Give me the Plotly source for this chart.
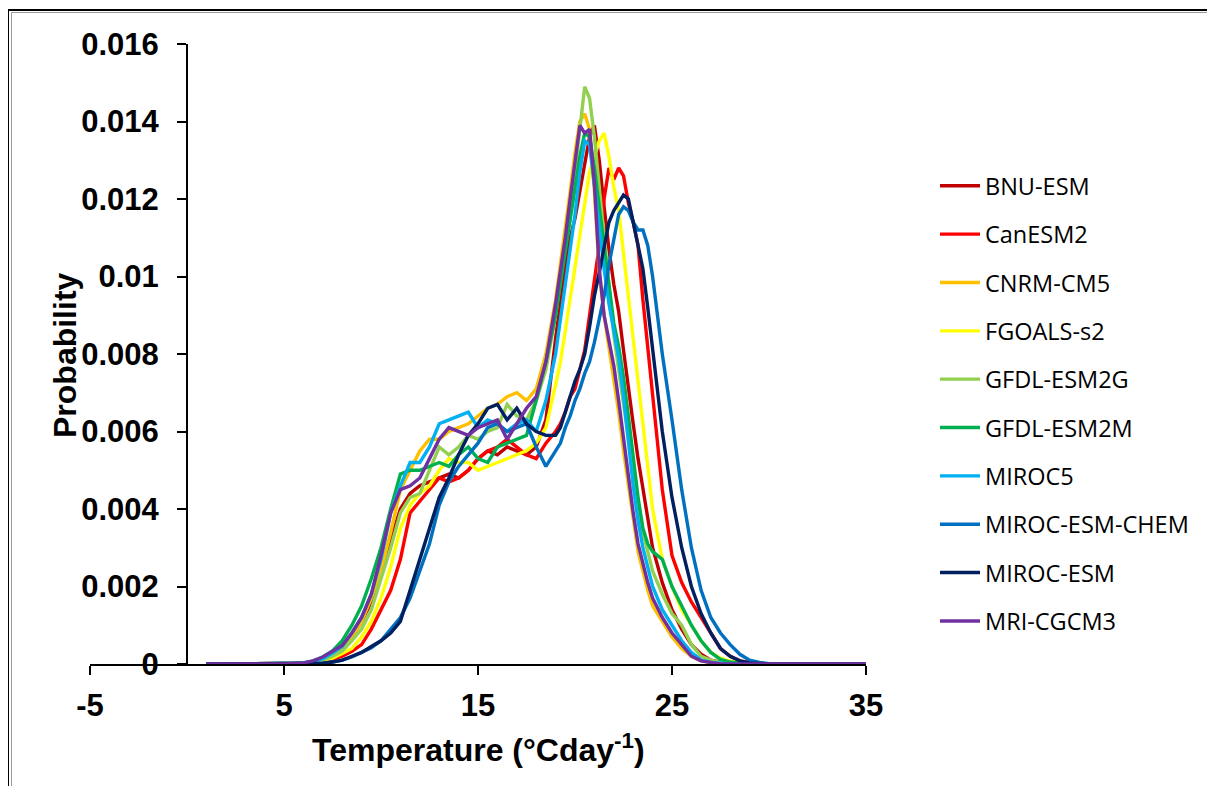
import plotly.graph_objects as go

# Temperature grid (°C day^-1)
temperature = [1, 5, 6, 6.5, 7, 7.5, 8, 8.5, 9, 9.5, 10, 10.5, 11, 11.5, 12, 12.5, 13, 13.5,
               14, 14.5, 15, 15.5, 16, 16.5, 17, 17.5, 18, 18.5, 19, 19.25, 19.5, 19.75, 20,
               20.25, 20.5, 20.75, 21, 21.25, 21.5, 21.75, 22, 22.25, 22.5, 22.75, 23, 23.25,
               23.5, 23.75, 24, 24.5, 25, 25.5, 26, 26.5, 27, 27.5, 28, 28.5, 29, 29.5, 30, 35]

bnu_esm = [0, 0, 0.00002, 0.00005, 0.0001, 0.0002, 0.0004, 0.0007, 0.0011, 0.0016, 0.0023,
           0.0032, 0.0040, 0.0044, 0.0046, 0.0047, 0.0048, 0.0049, 0.0048, 0.0050, 0.0053,
           0.0055, 0.0054, 0.0056, 0.0055, 0.0054, 0.0056, 0.0063, 0.0084, 0.0094, 0.0103,
           0.0110, 0.0115, 0.0122, 0.0129, 0.0136, 0.0139, 0.0130, 0.0118, 0.0107, 0.0098,
           0.0091, 0.0081, 0.0071, 0.0062, 0.0053, 0.0045, 0.0037, 0.0030, 0.0021, 0.0014,
           0.0009, 0.0005, 0.00025, 0.0001, 0.00005, 0.00002, 0.00001, 0, 0, 0, 0]

canesm2 = [0, 0, 0.00001, 0.00003, 0.00006, 0.00012, 0.0002, 0.00033, 0.0005, 0.0009, 0.0014,
           0.0019, 0.0027, 0.0039, 0.0042, 0.0045, 0.0048, 0.0047, 0.0048, 0.0050, 0.0053,
           0.0055, 0.0056, 0.0058, 0.0056, 0.0054, 0.0053, 0.0057, 0.0060, 0.0062, 0.0065,
           0.0069, 0.0071, 0.0076, 0.0081, 0.0090, 0.0099, 0.0108, 0.0120, 0.0128, 0.0125,
           0.0128, 0.0126, 0.0119, 0.0114, 0.0108, 0.0094, 0.0082, 0.0068, 0.0045, 0.0028,
           0.0021, 0.0016, 0.0012, 0.0008, 0.0004, 0.0002, 0.00008, 0.00004, 0.00001, 0, 0]

cnrm_cm5 = [0, 0, 0.00002, 0.00006, 0.00014, 0.00026, 0.0004, 0.0007, 0.0011, 0.0017, 0.0024,
            0.0034, 0.0045, 0.0050, 0.0055, 0.0058, 0.0058, 0.0060, 0.0061, 0.0062, 0.0064,
            0.0066, 0.0067, 0.0069, 0.0070, 0.0068, 0.0071, 0.0080, 0.0094, 0.0103, 0.0113,
            0.0122, 0.0132, 0.0140, 0.0142, 0.0138, 0.0122, 0.0101, 0.0090, 0.0082, 0.0074,
            0.0065, 0.0055, 0.0046, 0.0037, 0.0029, 0.0024, 0.0019, 0.0015, 0.0011, 0.0007,
            0.0004, 0.0002, 0.00008, 0.00003, 0, 0, 0, 0, 0, 0, 0]

fgoals_s2 = [0, 0, 0.00001, 0.00003, 0.00008, 0.00015, 0.00027, 0.0004, 0.0007, 0.0011, 0.0017,
             0.0025, 0.0035, 0.0041, 0.0044, 0.0046, 0.0050, 0.0053, 0.0052, 0.0052, 0.0050,
             0.0051, 0.0052, 0.0053, 0.0054, 0.0055, 0.0057, 0.0061, 0.0072, 0.0078, 0.0086,
             0.0094, 0.0102, 0.0110, 0.0119, 0.0127, 0.0131, 0.0135, 0.0137, 0.0131, 0.0123,
             0.0117, 0.0106, 0.0095, 0.0085, 0.0074, 0.0063, 0.0051, 0.0040, 0.0027, 0.0020,
             0.0014, 0.0010, 0.0006, 0.0003, 0.00015, 0.00007, 0.00003, 0.00001, 0, 0, 0]

gfdl_esm2g = [0, 0, 0.00002, 0.00005, 0.0001, 0.0002, 0.00033, 0.0006, 0.0009, 0.0014, 0.0022,
              0.0030, 0.0039, 0.0043, 0.0044, 0.0050, 0.0056, 0.0054, 0.0056, 0.0059, 0.0058,
              0.0060, 0.0061, 0.0067, 0.0064, 0.0063, 0.0068, 0.0076, 0.0090, 0.0099, 0.0109,
              0.0118, 0.0127, 0.0138, 0.0149, 0.0146, 0.0136, 0.0123, 0.0110, 0.0097, 0.0085,
              0.0076, 0.0067, 0.0058, 0.0049, 0.0041, 0.0034, 0.0029, 0.0024, 0.0018, 0.0013,
              0.0010, 0.0005, 0.0002, 0.0001, 0.00004, 0.00001, 0, 0, 0, 0, 0]

gfdl_esm2m = [0, 0, 0.00003, 0.00008, 0.00018, 0.00034, 0.0006, 0.0010, 0.0015, 0.0022, 0.0030,
              0.0040, 0.0049, 0.0050, 0.0050, 0.0051, 0.0052, 0.0051, 0.0054, 0.0056, 0.0053,
              0.0052, 0.0056, 0.0057, 0.0058, 0.0059, 0.0068, 0.0078, 0.0090, 0.0098, 0.0106,
              0.0114, 0.0122, 0.0131, 0.0137, 0.0136, 0.0128, 0.0118, 0.0107, 0.0097, 0.0088,
              0.0082, 0.0074, 0.0064, 0.0053, 0.0043, 0.0035, 0.0031, 0.0029, 0.0027, 0.0020,
              0.0015, 0.0010, 0.0006, 0.0003, 0.00012, 0.00005, 0.00002, 0, 0, 0, 0]

miroc5 = [0, 0, 0.00002, 0.00006, 0.00014, 0.00028, 0.00045, 0.0008, 0.0012, 0.0018, 0.0027,
          0.0039, 0.0046, 0.0052, 0.0052, 0.0056, 0.0062, 0.0063, 0.0064, 0.0065, 0.0061,
          0.0063, 0.0062, 0.0060, 0.0062, 0.0063, 0.0060, 0.0068, 0.0080, 0.0089, 0.0097,
          0.0106, 0.0116, 0.0127, 0.0135, 0.0134, 0.0124, 0.0113, 0.0102, 0.0093, 0.0086,
          0.0079, 0.0069, 0.0057, 0.0046, 0.0037, 0.0030, 0.0025, 0.0020, 0.0014, 0.0010,
          0.0006, 0.0003, 0.0001, 0.00004, 0.00001, 0, 0, 0, 0, 0, 0]

miroc_esm_chem = [0, 0, 0, 0.00001, 0.00002, 0.00005, 0.0001, 0.00018, 0.0003, 0.00042, 0.0006,
                  0.0009, 0.0012, 0.0017, 0.0024, 0.0031, 0.0041, 0.0047, 0.0051, 0.0054, 0.0057,
                  0.0061, 0.0062, 0.0060, 0.0061, 0.0062, 0.0056, 0.0051, 0.0055, 0.0057, 0.0061,
                  0.0064, 0.0068, 0.0071, 0.0075, 0.0078, 0.0083, 0.0089, 0.0095, 0.0103, 0.0110,
                  0.0116, 0.0118, 0.0117, 0.0114, 0.0112, 0.0112, 0.0108, 0.0100, 0.0080, 0.0063,
                  0.0045, 0.0030, 0.0019, 0.0012, 0.0008, 0.0005, 0.00025, 0.0001, 0.00004,
                  0.00001, 0]

miroc_esm = [0, 0, 0, 0.00001, 0.00002, 0.00005, 0.0001, 0.0002, 0.0003, 0.00045, 0.0006,
             0.0008, 0.0011, 0.0019, 0.0027, 0.0035, 0.0043, 0.0048, 0.0054, 0.0059, 0.0062,
             0.0066, 0.0067, 0.0063, 0.0066, 0.0062, 0.0060, 0.0059, 0.0059, 0.0061, 0.0065,
             0.0069, 0.0073, 0.0076, 0.0080, 0.0087, 0.0095, 0.0101, 0.0108, 0.0114, 0.0117,
             0.0119, 0.0121, 0.0120, 0.0114, 0.0109, 0.0102, 0.0092, 0.0081, 0.0060, 0.0043,
             0.0030, 0.0020, 0.0013, 0.0008, 0.0004, 0.0002, 0.00008, 0.00003, 0.00001, 0, 0]

mri_cgcm3 = [0, 0, 0.00003, 0.00008, 0.00018, 0.00032, 0.00048, 0.0008, 0.0012, 0.0018, 0.0028,
             0.0039, 0.0045, 0.0046, 0.0048, 0.0053, 0.0058, 0.0061, 0.0060, 0.0059, 0.0061,
             0.0062, 0.0063, 0.0058, 0.0062, 0.0066, 0.0069, 0.0078, 0.0093, 0.0101, 0.0110,
             0.0120, 0.0130, 0.0139, 0.0137, 0.0138, 0.0124, 0.0102, 0.0090, 0.0084, 0.0077,
             0.0068, 0.0058, 0.0048, 0.0039, 0.0031, 0.0026, 0.0021, 0.0017, 0.0012, 0.0008,
             0.0005, 0.0002, 0.00008, 0.00003, 0, 0, 0, 0, 0, 0, 0]

model_names = ["BNU-ESM", "CanESM2", "CNRM-CM5", "FGOALS-s2", "GFDL-ESM2G", "GFDL-ESM2M",
               "MIROC5", "MIROC-ESM-CHEM", "MIROC-ESM", "MRI-CGCM3"]
model_values = [bnu_esm, canesm2, cnrm_cm5, fgoals_s2, gfdl_esm2g, gfdl_esm2m,
                miroc5, miroc_esm_chem, miroc_esm, mri_cgcm3]
model_colors = ["#C00000", "#FF0000", "#FFC000", "#FFFF00", "#92D050", "#00B050",
                "#00B0F0", "#0070C0", "#002060", "#7030A0"]

x_ticks = [-5, 5, 15, 25, 35]
y_ticks = [0, 0.002, 0.004, 0.006, 0.008, 0.01, 0.012, 0.014, 0.016]
y_tick_text = ["0", "0.002", "0.004", "0.006", "0.008", "0.01", "0.012", "0.014", "0.016"]

fig = go.Figure()
for name, vals, col in zip(model_names, model_values, model_colors):
    fig.add_trace(go.Scatter(x=temperature, y=vals, mode="lines", name=name,
                             legendgroup=name,
                             line=dict(color=col, width=3.4)))

# page body has an 8px margin; work in screen coordinates and shift
OFF = 8
W, H = 1199, 778
L, T = 90 - OFF, 44 - OFF
R = W - (866 - OFF)
B = H - (664 - OFF)
pw, ph = W - L - R, H - T - B

def px(xs):
    return (xs - OFF - L) / pw

def py(ys):
    return (H - B - (ys - OFF)) / ph

tick_font = dict(family="Liberation Sans, Arial, sans-serif", size=31, color="black")
title_font = dict(family="Liberation Sans, Arial, sans-serif", size=32, color="black")

fig.update_layout(
    width=W, height=H,
    margin=dict(l=L, r=R, t=T, b=B, autoexpand=False),
    paper_bgcolor="white", plot_bgcolor="white",
    showlegend=True,
    legend=dict(x=px(935), y=py(164), xanchor="left", yanchor="top",
                font=dict(family="Open Sans, sans-serif", size=23.5, color="black"),
                tracegroupgap=14.8, itemwidth=40, bgcolor="rgba(0,0,0,0)"),
    xaxis=dict(range=[-5, 35], tickvals=x_ticks, ticktext=["<b>%s</b>" % v for v in x_ticks],
               showgrid=False, zeroline=False, showline=True, linecolor="black", linewidth=2,
               ticks="outside", ticklen=9, tickwidth=2, tickcolor="black",
               tickfont=tick_font, ticklabelstandoff=4,
               automargin=False),
    yaxis=dict(range=[0, 0.016], tickvals=y_ticks, ticktext=["<b>%s</b>" % t for t in y_tick_text],
               anchor="free", position=0.125,
               showgrid=False, zeroline=False, showline=True, linecolor="black", linewidth=2,
               ticks="outside", ticklen=9, tickwidth=2, tickcolor="black",
               tickfont=tick_font, ticklabelstandoff=12,
               automargin=False),
)

# axis titles
fig.add_annotation(text="<b>Temperature (°Cday<sup>-1</sup>)</b>", xref="paper", yref="paper",
                   x=px(478), y=py(748), showarrow=False, font=title_font,
                   xanchor="center", yanchor="middle")
fig.add_annotation(text="<b>Probability</b>", xref="paper", yref="paper",
                   x=px(65), y=py(355), showarrow=False, font=title_font, textangle=-90,
                   xanchor="center", yanchor="middle")

# outer frame (top and left edges of the chart border)
fig.add_shape(type="line", xref="paper", yref="paper", x0=px(8), x1=px(8), y0=py(810), y1=py(10),
              line=dict(color="black", width=2))
fig.add_shape(type="line", xref="paper", yref="paper", x0=px(8), x1=px(1230), y0=py(10), y1=py(10),
              line=dict(color="black", width=2))
fig.add_shape(type="line", xref="paper", yref="paper", x0=px(11.5), x1=px(11.5), y0=py(810), y1=py(12.5),
              line=dict(color="#9a9a9a", width=1))
fig.add_shape(type="line", xref="paper", yref="paper", x0=px(11.5), x1=px(1230), y0=py(12.5), y1=py(12.5),
              line=dict(color="#9a9a9a", width=1))

fig.write_html("out.html")
